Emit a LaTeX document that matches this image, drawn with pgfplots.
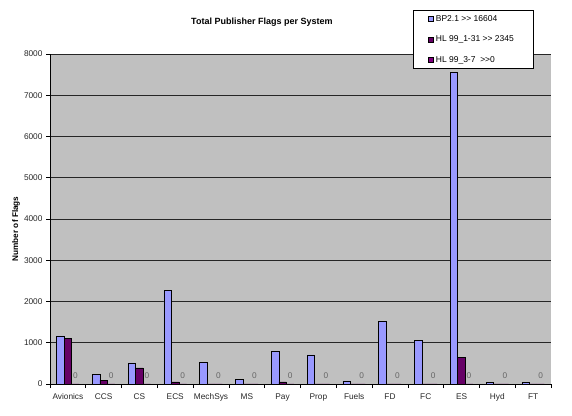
\documentclass[border=0pt]{standalone}
\usepackage{fontspec}
\setmainfont{Liberation Sans}
\usepackage{pgfplots}
\pgfplotsset{compat=1.18}
\definecolor{bp}{HTML}{9999FF}
\definecolor{hla}{HTML}{660066}
\definecolor{hlb}{HTML}{800080}
\definecolor{plotbg}{HTML}{C0C0C0}
\begin{document}
\begin{tikzpicture}
\useasboundingbox (0,0) rectangle (572bp,416bp);
\begin{axis}[
  at={(50bp,32bp)}, anchor=south west,
  scale only axis, width=501bp, height=330bp,
  ybar=0pt, bar width=0.21,
  xmin=-0.5, xmax=13.5, ymin=0, ymax=8000,
  xtick={0,...,13},
  xticklabels={Avionics,CCS,CS,ECS,MechSys,MS,Pay,Prop,Fuels,FD,FC,ES,Hyd,FT},
  major x tick style={draw=none},
  minor xtick={-0.5,0.5,...,13.5},
  minor tick length=4bp, major tick length=4bp,
  tick align=outside,
  ytick={0,1000,...,8000},
  ymajorgrids, grid style={black!85, line width=0.7bp},
  axis background/.style={fill=plotbg},
  axis x line*=bottom, axis y line*=left,
  x axis line style={-}, y axis line style={-},
  axis line style={black, line width=0.8bp},
  tick style={black, line width=0.7bp},
  /pgf/number format/assume math mode=true,
  /pgf/number format/1000 sep={},
  ticklabel style={font=\fontsize{8.3bp}{10bp}\selectfont, text=black!85},
  xticklabel style={yshift=-2bp},
  every axis title shift=0pt,
  title={Total Publisher Flags per System},
  title style={font=\fontsize{9bp}{11bp}\selectfont\bfseries, at={(axis description cs:0.423,1.097)}, anchor=center},
  ylabel={Number of Flags},
  ylabel style={font=\fontsize{8.2bp}{10bp}\selectfont\bfseries, at={(axis description cs:-0.068,0.47)}, anchor=center},
  legend style={at={(axis description cs:0.7246,1.1333)}, anchor=north west,
    draw=black, fill=white, line width=0.7bp, inner xsep=15bp, inner ysep=3bp,
    row sep=9bp, font=\fontsize{8.5bp}{10bp}\selectfont, cells={anchor=west}},
  legend cell align=left,
  legend image code/.code={\draw[#1, line width=0.5bp] (0bp,-2.5bp) rectangle (5bp,2.5bp);},
]
\addplot[fill=bp, draw=black, line width=0.6bp] coordinates {
 (0,1168) (1,236) (2,511) (3,2270) (4,528) (5,114) (6,803) (7,706)
 (8,73) (9,1512) (10,1063) (11,7560) (12,30) (13,30)};
\addplot[fill=hla, draw=black, line width=0.6bp] coordinates {
 (0,1110) (1,95) (2,390) (3,50) (4,0) (5,0) (6,50) (7,0)
 (8,0) (9,0) (10,0) (11,650) (12,0) (13,0)};
\addplot[fill=hlb, draw=black, line width=0.6bp,
  nodes near coords,
  every node near coord/.append style={font=\fontsize{8.3bp}{10bp}\selectfont, text=black!60, inner sep=2bp, yshift=3bp}] coordinates {
 (0,0) (1,0) (2,0) (3,0) (4,0) (5,0) (6,0) (7,0)
 (8,0) (9,0) (10,0) (11,0) (12,0) (13,0)};
\legend{\makebox[80bp][l]{BP2.1 {>}{>} 16604},
        \makebox[80bp][l]{HL 99\_1-31 {>}{>} 2345},
        \makebox[80bp][l]{HL 99\_3-7\ \ {>}{>}0}}
\end{axis}
\end{tikzpicture}
\end{document}
